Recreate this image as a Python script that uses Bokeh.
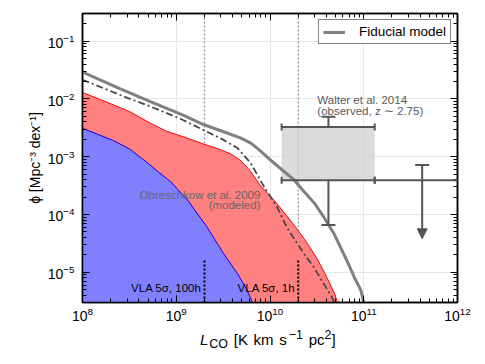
from bokeh.plotting import figure
from bokeh.layouts import column
from bokeh.models import (ColumnDataSource, LogAxis, FixedTicker, Whisker, TeeHead,
                          Arrow, NormalHead, Label, Legend, LegendItem, Span, Div)
from bokeh.embed import file_html
from bokeh.resources import INLINE

FONT = "Liberation Sans"

# ---------------- data ----------------
X_TICKS = [1e8, 1e9, 1e10, 1e11, 1e12]
Y_TICKS = [1e-5, 1e-4, 1e-3, 1e-2, 1e-1]

# Fiducial model
L_fid = [1.0e8, 2.5e8, 5.3e8, 1.2e9, 1.95e9, 3.2e9, 4.9e9, 6.3e9, 7.9e9, 1.0e10,
         1.4e10, 1.8e10, 2.3e10, 3.0e10, 3.7e10, 4.8e10, 6.6e10, 7.9e10, 9.3e10,
         1.0e11, 1.12e11]
phi_fid = [2.9e-2, 1.5e-2, 9.0e-3, 5.2e-3, 3.6e-3, 2.7e-3, 2.1e-3, 1.7e-3, 1.26e-3,
           8.9e-4, 5.6e-4, 4.0e-4, 2.5e-4, 1.55e-4, 9.3e-5, 4.7e-5, 1.6e-5, 8.3e-6,
           4.9e-6, 3.0e-6, 6.0e-7]

# Obreschkow et al. 2009 (modeled)
L_obr = [1.0e8, 3.2e8, 5.3e8, 1.15e9, 1.95e9, 3.2e9, 4.5e9, 6.2e9, 7.2e9, 8.5e9,
         1.19e10, 1.51e10, 1.95e10, 2.3e10, 2.93e10, 3.75e10, 4.57e10, 5.25e10]
phi_obr = [2.14e-2, 1.0e-2, 7.4e-3, 4.4e-3, 2.9e-3, 1.95e-3, 1.41e-3, 7.8e-4, 5.1e-4,
           3.16e-4, 1.35e-4, 6.0e-5, 3.16e-5, 2.1e-5, 1.23e-5, 6.3e-6, 3.7e-6, 2.2e-6]

# detectable region, 1h (red)
L_red = [1.0e8, 1.78e8, 3.2e8, 5.3e8, 7.9e8, 1.2e9, 1.95e9, 2.75e9, 3.8e9, 4.9e9,
         6.2e9, 7.9e9, 1.1e10, 1.51e10, 2.11e10, 2.63e10, 3.16e10, 3.8e10, 4.42e10,
         4.9e10, 5.25e10, 5.6e10]
phi_red = [1.29e-2, 8.9e-3, 6.0e-3, 3.8e-3, 2.75e-3, 2.2e-3, 1.66e-3, 1.38e-3, 1.12e-3,
           8.5e-4, 5.6e-4, 3.16e-4, 1.78e-4, 9.5e-5, 4.7e-5, 2.8e-5, 1.74e-5, 1.0e-5,
           6.0e-6, 4.2e-6, 3.0e-6, 3.2e-7]

# detectable region, 100h (blue)
L_blue = [1.0e8, 2.14e8, 3.2e8, 4.9e8, 6.3e8, 8.7e8, 1.32e9, 2.14e9, 3.2e9, 4.5e9,
          5.7e9, 6.5e9, 6.9e9]
phi_blue = [3.1e-3, 1.9e-3, 1.35e-3, 7.9e-4, 5.6e-4, 3.7e-4, 1.78e-4, 6.0e-5, 2.1e-5,
            9.5e-6, 4.9e-6, 3.0e-6, 3.2e-7]
FLOOR = 1e-8

# Walter et al. 2014 (observed)
W_L = [4.2e10, 4.2e11]
W_L_lo = [1.33e10, 1.31e11]
W_L_hi = [1.31e11, 1.3e12]
W_phi_lo = [3.9e-4, 3.9e-4]
W_phi_hi = [3.27e-3, 7.2e-4]
W_err_up = [4.9e-3]
W_err_dn = [6.6e-5]
W_limit_end = [3.8e-5]

# VLA 5 sigma limits
VLA_L = [2e9, 2e10]
VLA_labels = ["VLA 5σ, 100h", "VLA 5σ, 1h"]
VLA_mark_top = [1.7e-5, 1.7e-5]
Y_MIN, Y_MAX = 3e-6, 0.3

# ---------------- figure ----------------
p = figure(width=465, height=328, x_axis_type="log", y_axis_type="log",
           x_range=(1e8, 1e12), y_range=(Y_MIN, Y_MAX),
           output_backend="svg", toolbar_location=None,
           min_border_left=70, min_border_right=20, min_border_top=13,
           min_border_bottom=26, margin=(0, 0, 0, 12))
p.background_fill_color = "white"
p.outline_line_color = "black"
p.outline_line_width = 1.5

minor_x = [m * t for t in X_TICKS[:-1] for m in range(2, 10)]
minor_y = [m * t for t in [1e-6] + Y_TICKS for m in range(2, 10)]
xt = FixedTicker(ticks=X_TICKS, minor_ticks=minor_x)
yt = FixedTicker(ticks=Y_TICKS, minor_ticks=minor_y)

p.add_layout(LogAxis(), "above")
p.add_layout(LogAxis(), "right")

for ax in p.xaxis:
    ax.ticker = xt
for ax in p.yaxis:
    ax.ticker = yt
for ax in p.axis:
    ax.major_tick_in = 7
    ax.major_tick_out = 0
    ax.minor_tick_in = 4
    ax.minor_tick_out = 0
    ax.major_tick_line_color = "black"
    ax.minor_tick_line_color = "black"
    ax.axis_line_color = "black"
    ax.axis_line_width = 1.5
    ax.major_label_text_font = FONT
    ax.major_label_text_font_size = "14px"
    ax.major_label_text_color = "black"

for ax in p.above + p.right:
    ax.major_label_text_font_size = "2px"
    ax.major_label_text_alpha = 0
    ax.major_label_standoff = 0

p.below[0].major_label_standoff = 4
p.left[0].major_label_standoff = 8
p.left[0].axis_label = "ϕ [Mpc⁻³ dex⁻¹]"
p.left[0].axis_label_text_font = FONT
p.left[0].axis_label_text_font_size = "14px"
p.left[0].axis_label_text_font_style = "normal"
p.left[0].axis_label_text_color = "black"
p.left[0].axis_label_standoff = 2

p.xgrid.ticker = xt
p.ygrid.ticker = yt
p.grid.grid_line_color = "#e6e6e6"
p.grid.grid_line_width = 1

# full-height dotted lines
for xv in VLA_L:
    p.add_layout(Span(location=xv, dimension="height", line_color="#8a8a8a",
                      line_width=1.2, line_dash="2 2", level="underlay"))

# Walter box
p.quad(left=W_L_lo[:1], right=W_L_hi[:1], bottom=W_phi_lo[:1], top=W_phi_hi[:1],
       fill_color="#cfcfcf", fill_alpha=0.75, line_color=None)

# filled regions
p.varea(x=L_red, y1=[FLOOR] * len(L_red), y2=phi_red, fill_color="#ff8080")
p.line(L_red, phi_red, line_color="#ff0000", line_width=1)
p.varea(x=L_blue, y1=[FLOOR] * len(L_blue), y2=phi_blue, fill_color="#8080ff")
p.line(L_blue, phi_blue, line_color="#0000ff", line_width=1)

# model curves
p.line(L_obr, phi_obr, line_color="#474747", line_width=1.8, line_dash="7 3 2 3")
fid = p.line(L_fid, phi_fid, line_color="#808080", line_width=3)

# VLA short black dotted markers
p.segment(x0=VLA_L, y0=[Y_MIN] * 2, x1=VLA_L, y1=VLA_mark_top,
          line_color="black", line_width=2, line_dash="2 2")

# Walter error bars
EC = "#555555"
hsrc = ColumnDataSource(dict(base=[W_phi_hi[0], W_phi_lo[0]],
                             lower=[W_L_lo[0], W_L_lo[0]],
                             upper=[W_L_hi[0], W_L_hi[0]]))
p.add_layout(Whisker(source=hsrc, base="base", lower="lower", upper="upper",
                     dimension="width", line_color=EC, line_width=2, level="annotation",
                     lower_head=TeeHead(size=7, line_color=EC, line_width=2),
                     upper_head=TeeHead(size=7, line_color=EC, line_width=2)))
h2 = ColumnDataSource(dict(base=[W_phi_lo[1]], lower=[W_L_lo[1]], upper=[W_L_hi[1]]))
p.add_layout(Whisker(source=h2, base="base", lower="lower", upper="upper",
                     dimension="width", line_color=EC, line_width=2, level="annotation",
                     lower_head=TeeHead(size=7, line_color=EC, line_width=2),
                     upper_head=None))
vu = ColumnDataSource(dict(base=[W_L[0]], lower=[W_phi_hi[0]], upper=W_err_up))
p.add_layout(Whisker(source=vu, base="base", lower="lower", upper="upper",
                     dimension="height", line_color=EC, line_width=2, level="annotation",
                     upper_head=TeeHead(size=14, line_color=EC, line_width=2),
                     lower_head=None))
vd = ColumnDataSource(dict(base=[W_L[0]], lower=W_err_dn, upper=[W_phi_lo[0]]))
p.add_layout(Whisker(source=vd, base="base", lower="lower", upper="upper",
                     dimension="height", line_color=EC, line_width=2, level="annotation",
                     lower_head=TeeHead(size=14, line_color=EC, line_width=2),
                     upper_head=None))
asrc = ColumnDataSource(dict(x0=[W_L[1]], y0=[W_phi_hi[1]], x1=[W_L[1]], y1=W_limit_end))
p.add_layout(Arrow(source=asrc, x_start="x0", y_start="y0", x_end="x1", y_end="y1",
                   line_color=EC, line_width=2,
                   start=TeeHead(size=14, line_color=EC, line_width=2),
                   end=NormalHead(size=10, fill_color=EC, line_color=EC)))

# text annotations
def txt(x, y, s, align="left", color="black", size="11.5px", **kw):
    p.add_layout(Label(x=x, y=y, text=s, text_align=align, text_baseline="alphabetic",
                       text_font=FONT, text_font_size=size, text_color=color, **kw))

txt(3.2e10, 9.6e-3, "Walter et al. 2014", color="#5a5a5a")
txt(3.2e10, 6.2e-3, "(observed, z ∼ 2.75)", color="#5a5a5a")
txt(7.9e9, 2.16e-4, "Obreschkow et al. 2009", align="right", color="#666666")
txt(7.9e9, 1.45e-4, "(modeled)", align="right", color="#666666")
for xv, lab in zip(VLA_L, VLA_labels):
    txt(xv, 5.3e-6, lab, align="right", x_offset=-3)

legend = Legend(items=[LegendItem(label="Fiducial model", renderers=[fid])],
                location="top_right", margin=6, padding=4, spacing=0,
                glyph_width=22, glyph_height=14, label_height=14, label_standoff=14,
                border_line_color="black", border_line_width=1.5,
                background_fill_color="white", background_fill_alpha=1.0,
                label_text_font=FONT, label_text_font_size="13.5px",
                label_text_color="black")
p.add_layout(legend)

# x-axis label as real HTML text
small = "font-size:12.5px;position:relative;"
xlabel = Div(
    text=('<div style="padding-left:195px;padding-top:0px;font-family:\'Liberation Sans\';'
          'font-size:15px;line-height:14px;color:black;white-space:nowrap;word-spacing:1.5px">'
          '<i>L</i><span style="' + small + 'top:3px;margin-left:1px">CO</span> [K km s'
          '<span style="' + small + 'top:-6px;margin-left:2px">−1</span> pc'
          '<span style="' + small + 'top:-6px">2</span>]</div>'),
    width=477, height=28)

layout = column(p, xlabel, spacing=0)
open("out.html", "w").write(file_html(layout, INLINE))
